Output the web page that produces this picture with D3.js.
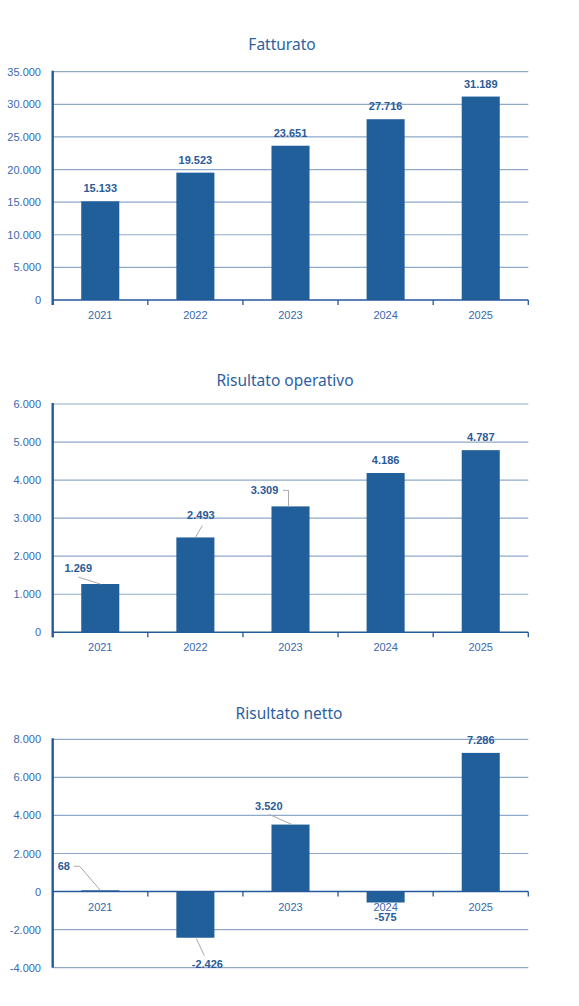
<!DOCTYPE html>
<html>
<head>
<meta charset="utf-8">
<script src="https://cdn.jsdelivr.net/npm/d3@7"></script>
<style>
  html, body { margin: 0; padding: 0; background: #fff; }
  svg { display: block; }
</style>
</head>
<body>
<div id="chart"></div>
<script>
// dati
const years = ["2021", "2022", "2023", "2024", "2025"]
const fatturato = [15133, 19523, 23651, 27716, 31189]
const risultatoOperativo = [1269, 2493, 3309, 4186, 4787]
const risultatoNetto = [68, -2426, 3520, -575, 7286]
const fatturatoTicks = [0, 5000, 10000, 15000, 20000, 25000, 30000, 35000]
const operativoTicks = [0, 1000, 2000, 3000, 4000, 5000, 6000]
const nettoTicks = [-4000, -2000, 0, 2000, 4000, 6000, 8000]

const width = 579, height = 1006
const x0 = 52.7, x1 = 528.3
const barColor = "#215f9a"
const gridColor = "#8eaac8"
const axisColor = "#24599a"
const tickTextColor = "#3a68ad"
const labelColor = "#2a5b97"
const titleColor = "#2e5f9f"

const it = d3.formatLocale({ decimal: ",", thousands: ".", grouping: [3], currency: ["€", ""], minus: "-" })
const fmt = it.format(",d")

const svg = d3.select("#chart").append("svg")
    .attr("width", width)
    .attr("height", height)
svg.append("rect").attr("width", width).attr("height", height).attr("fill", "#fff")

// etichette: spostamento rispetto al punto (centro barra, y(valore)), con eventuale linea guida
const fatturatoLabels = [
    { dx: 0, dy: -13 }, { dx: 0, dy: -13 }, { dx: 0, dy: -13 }, { dx: 0, dy: -13 }, { dx: 0, dy: -13 }
]
const operativoLabels = [
    { dx: -22, dy: -16, leader: [[-22, -7], [0, 0]] },
    { dx: 5.5, dy: -22, leader: [[7, -12], [0, 0]] },
    { dx: -26, dy: -16, leader: [[-7.5, -16], [-2, -16], [-2, 0]] },
    { dx: 0, dy: -13 },
    { dx: 0, dy: -13.4 }
]
const nettoLabels = [
    { dx: -36.5, dy: -24, leader: [[-26.5, -24], [-20.5, -24], [0, 0]] },
    { dx: 12, dy: 26, leader: [[1, 1], [9, 18]] },
    { dx: -21.7, dy: -18.4, leader: [[-21, -10], [1.7, 0]] },
    { dx: 0, dy: 14 },
    { dx: 0, dy: -12.6 }
]

function drawChart(cfg) {
    let g = svg.append("g")
    let y = d3.scaleLinear().domain(d3.extent(cfg.ticks)).range([cfg.bottom, cfg.top])
    let xCat = d3.scaleBand().domain(years).range([x0, x1]).padding(0)
    let xBar = d3.scaleBand().domain(years).range([x0, x1]).paddingInner(0.6).paddingOuter(0.3)
    let zero = y(0)

    //titolo
    g.append("text")
        .attr("x", cfg.titleX)
        .attr("y", cfg.titleY)
        .attr("text-anchor", "middle")
        .attr("font-family", "'Noto Sans', 'Open Sans', sans-serif")
        .attr("font-size", 15.5)
        .attr("fill", titleColor)
        .text(cfg.title)

    //griglia
    g.append("g")
        .selectAll("line")
        .data(cfg.ticks.filter(d => d !== 0))
        .enter()
        .append("line")
        .attr("x1", x0)
        .attr("x2", x1)
        .attr("y1", d => y(d))
        .attr("y2", d => y(d))
        .attr("stroke", gridColor)
        .attr("stroke-width", 1.2)

    //etichette asse y
    g.append("g")
        .selectAll("text")
        .data(cfg.ticks)
        .enter()
        .append("text")
        .attr("x", 41)
        .attr("y", d => y(d) + 4)
        .attr("text-anchor", "end")
        .attr("font-family", "'Liberation Sans', Arial, sans-serif")
        .attr("font-size", 11)
        .attr("fill", tickTextColor)
        .text(d => fmt(d))

    //etichette asse x (sotto le barre)
    g.append("g")
        .selectAll("text")
        .data(years)
        .enter()
        .append("text")
        .attr("x", d => xCat(d) + xCat.bandwidth() / 2)
        .attr("y", zero + 19)
        .attr("text-anchor", "middle")
        .attr("font-family", "'Liberation Sans', Arial, sans-serif")
        .attr("font-size", 11)
        .attr("fill", tickTextColor)
        .text(d => d)

    //barre
    g.append("g")
        .selectAll("rect")
        .data(cfg.values)
        .enter()
        .append("rect")
        .attr("x", (d, i) => xBar(years[i]))
        .attr("width", xBar.bandwidth())
        .attr("y", d => Math.min(y(d), zero))
        .attr("height", d => Math.abs(y(d) - zero))
        .attr("fill", barColor)

    //asse x con tacche
    let ax = g.append("g")
    ax.append("line")
        .attr("x1", x0).attr("x2", x1)
        .attr("y1", zero).attr("y2", zero)
        .attr("stroke", axisColor).attr("stroke-width", 1.5)
    ax.selectAll("line.tick")
        .data(years.concat(["end"]))
        .enter()
        .append("line")
        .attr("class", "tick")
        .attr("x1", (d, i) => i < years.length ? xCat(d) : x1)
        .attr("x2", (d, i) => i < years.length ? xCat(d) : x1)
        .attr("y1", zero)
        .attr("y2", zero + 5)
        .attr("stroke", axisColor).attr("stroke-width", 1.3)

    //asse y
    g.append("line")
        .attr("x1", x0).attr("x2", x0)
        .attr("y1", cfg.top - 1)
        .attr("y2", Math.max(cfg.bottom, zero + 5))
        .attr("stroke", axisColor)
        .attr("stroke-width", 2.4)

    //linee guida delle etichette
    cfg.values.forEach((v, i) => {
        let lab = cfg.labels[i]
        if (!lab.leader) return
        let cx = xBar(years[i]) + xBar.bandwidth() / 2, cy = y(v)
        g.append("path")
            .attr("d", d3.line()(lab.leader.map(p => [cx + p[0], cy + p[1]])))
            .attr("fill", "none")
            .attr("stroke", "#a9a9a9")
            .attr("stroke-width", 1)
    })

    //etichette dei valori
    g.append("g")
        .selectAll("text")
        .data(cfg.values)
        .enter()
        .append("text")
        .attr("x", (d, i) => xBar(years[i]) + xBar.bandwidth() / 2 + cfg.labels[i].dx)
        .attr("y", (d, i) => y(d) + cfg.labels[i].dy + 4)
        .attr("text-anchor", "middle")
        .attr("font-family", "'Liberation Sans', Arial, sans-serif")
        .attr("font-size", 11)
        .attr("font-weight", "bold")
        .attr("fill", labelColor)
        .text(d => fmt(d))
}

drawChart({ title: "Fatturato", titleX: 282, titleY: 49.5, values: fatturato, ticks: fatturatoTicks, top: 71.7, bottom: 300, labels: fatturatoLabels })
drawChart({ title: "Risultato operativo", titleX: 285, titleY: 385.5, values: risultatoOperativo, ticks: operativoTicks, top: 404, bottom: 632.3, labels: operativoLabels })
drawChart({ title: "Risultato netto", titleX: 289, titleY: 718.5, values: risultatoNetto, ticks: nettoTicks, top: 739.3, bottom: 967.7, labels: nettoLabels })
</script>
</body>
</html>
